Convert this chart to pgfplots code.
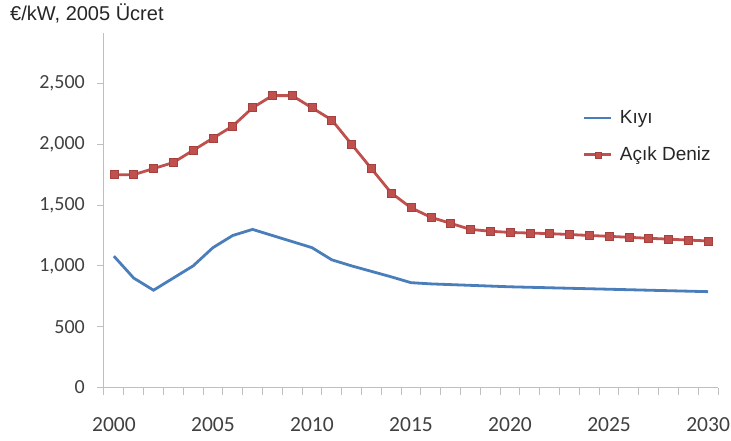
\documentclass[border=0pt]{standalone}
\usepackage{fontspec}
\setmainfont{Carlito}
\newfontfamily\arialfont{Liberation Sans}
\usepackage{pgfplots}
\pgfplotsset{compat=1.18}
\definecolor{kblue}{HTML}{4A7EBB}
\definecolor{kred}{HTML}{C0504D}
\definecolor{kredd}{HTML}{A5403D}
\definecolor{agray}{HTML}{BFBFBF}
\definecolor{tgray}{HTML}{404040}
\begin{document}
\begin{tikzpicture}
\begin{axis}[
  scale only axis, width=614bp, height=354.5bp,
  at={(0,0)}, anchor=south west,
  xmin=1999.5, xmax=2030.5, ymin=0, ymax=2915,
  axis x line=bottom, axis y line=left,
  axis line style={-, draw=agray, line width=1bp},
  tick align=outside,
  major tick length=7bp,
  tick style={draw=agray, line width=1bp},
  xtick={1999.5,2000.5,...,2030.5}, xticklabels={},
  extra x ticks={2000,2005,...,2030},
  extra x tick labels={2000,2005,2010,2015,2020,2025,2030},
  extra x tick style={major tick length=0pt},
  xticklabel style={font=\fontsize{21.5bp}{24bp}\selectfont, text=tgray, anchor=base, inner sep=0pt, yshift=-43.5bp},
  ytick={0,500,...,2500},
  /pgf/number format/assume math mode=true,
  yticklabel style={font=\fontsize{20bp}{24bp}\selectfont, text=tgray, anchor=east, inner sep=0pt, xshift=-12bp, /pgf/number format/1000 sep={,}},
  legend style={draw=none, fill=none, at={(0.775,0.79)}, anchor=north west,
    font=\arialfont\fontsize{19bp}{22bp}\selectfont, text=black!85, row sep=20bp, nodes={inner sep=1bp}},
  legend cell align=left,
  legend image code/.code={\draw[#1, mark repeat=2, mark phase=2, mark size=3bp] plot coordinates {(0bp,0bp) (13.5bp,0bp) (27bp,0bp)};},
  clip=false,
]
\addplot[kblue, line width=2.8bp, no markers] coordinates {
(2000,1080) (2001,900) (2002,800) (2003,900) (2004,1000) (2005,1150) (2006,1250) (2007,1300)
(2008,1250) (2009,1200) (2010,1150) (2011,1050) (2012,1000) (2013,955) (2014,910) (2015,862)
(2016,852) (2017,846) (2018,840) (2019,834) (2020,828) (2021,824) (2022,820) (2023,816)
(2024,812) (2025,808) (2026,804) (2027,800) (2028,796) (2029,792) (2030,788)};
\addlegendentry{\hspace{6bp}Kıyı}
\addplot[kred, line width=2.8bp, mark=square*, mark size=4bp, mark options={fill=kred, draw=kredd, line width=0.6bp}] coordinates {
(2000,1750) (2001,1750) (2002,1800) (2003,1850) (2004,1950) (2005,2050) (2006,2150) (2007,2300)
(2008,2400) (2009,2400) (2010,2300) (2011,2200) (2012,2000) (2013,1800) (2014,1600) (2015,1478)
(2016,1400) (2017,1350) (2018,1300) (2019,1285) (2020,1275) (2021,1270) (2022,1265) (2023,1258)
(2024,1250) (2025,1243) (2026,1235) (2027,1227) (2028,1220) (2029,1212) (2030,1205)};
\addlegendentry{\hspace{6bp}Açık Deniz}
\end{axis}
\node[anchor=base west, inner sep=0pt, font=\arialfont\fontsize{20bp}{22bp}\selectfont, text=black!85] at (-94bp,366.8bp) {€/kW, 2005 Ücret};
\pgfresetboundingbox
\useasboundingbox (-104bp,-53.5bp) rectangle (627bp,387.5bp);
\end{tikzpicture}
\end{document}
